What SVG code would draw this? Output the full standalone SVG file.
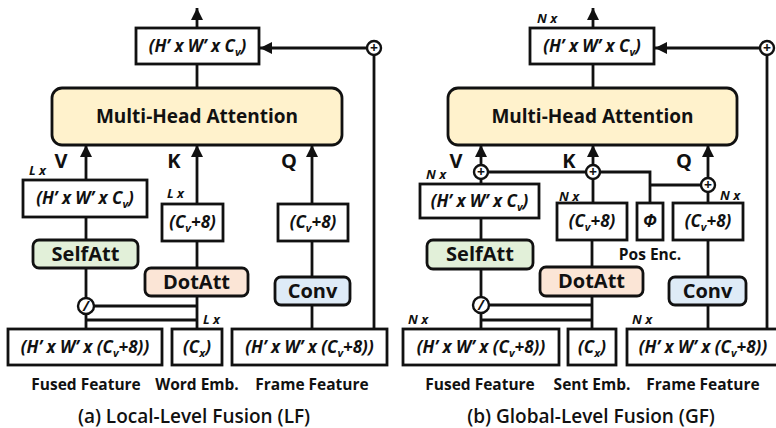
<svg xmlns="http://www.w3.org/2000/svg" width="776" height="428" viewBox="0 0 776 428">
<defs>
<marker id="arr" viewBox="0 0 10 10" refX="10" refY="5" markerWidth="12" markerHeight="12" markerUnits="userSpaceOnUse" orient="auto">
<path d="M0,0 L10,5 L0,10 z" fill="#111"/>
</marker>
</defs>
<style>
.box{fill:#fff;stroke:#111;stroke-width:2.8}
.mha{fill:#FFF2CC;stroke:#111;stroke-width:2.8}
.sa{fill:#E2F0D9;stroke:#111;stroke-width:2.8}
.da{fill:#FBE5D6;stroke:#111;stroke-width:2.8}
.cv{fill:#DEEBF7;stroke:#111;stroke-width:2.8}
.circ{fill:#fff;stroke:#111;stroke-width:2.4}
.ln{fill:none;stroke:#111;stroke-width:2.8}
.ar{fill:none;stroke:#111;stroke-width:2.8;marker-end:url(#arr)}
text{font-family:"Open Sans","DejaVu Sans",sans-serif;fill:#111;text-anchor:middle}
.t{font-size:17px;font-weight:bold;font-style:italic}
.big{font-size:19px;font-weight:bold}
.mod{font-size:20px;font-weight:bold}
.qkv{font-size:20px;font-weight:bold}
.nx{font-size:13px;font-weight:bold;font-style:italic;text-anchor:start}
.lab{font-size:15.5px;font-weight:bold}
.cap{font-size:19px;font-weight:600}
.sym{font-size:14px;font-weight:bold}
.sub{font-size:11px}
</style>

<g id="connectors">
<!-- left panel -->
<line class="ar" x1="197" y1="28" x2="197" y2="8"/>
<line class="ln" x1="197" y1="64" x2="197" y2="88"/>
<line class="ar" x1="367" y1="48" x2="260" y2="48"/>
<line class="ln" x1="374" y1="55" x2="374" y2="329"/>
<line class="ar" x1="86" y1="180" x2="86" y2="145"/>
<line class="ar" x1="197" y1="204" x2="197" y2="145"/>
<line class="ar" x1="312" y1="204" x2="312" y2="145"/>
<line class="ln" x1="86" y1="217" x2="86" y2="240"/>
<line class="ln" x1="86" y1="268" x2="86" y2="298"/>
<line class="ln" x1="86" y1="314" x2="86" y2="329"/>
<line class="ln" x1="94" y1="306" x2="197" y2="306"/>
<line class="ln" x1="86" y1="320" x2="197" y2="320"/>
<line class="ln" x1="197" y1="241" x2="197" y2="268"/>
<line class="ln" x1="197" y1="296" x2="197" y2="329"/>
<line class="ln" x1="312" y1="241" x2="312" y2="277"/>
<line class="ln" x1="312" y1="305" x2="312" y2="329"/>
<!-- right panel -->
<line class="ar" x1="593" y1="28" x2="593" y2="8"/>
<line class="ln" x1="593" y1="64" x2="593" y2="88"/>
<line class="ar" x1="760" y1="48" x2="655" y2="48"/>
<line class="ln" x1="767" y1="55" x2="767" y2="329"/>
<line class="ar" x1="481" y1="165" x2="481" y2="145"/>
<line class="ln" x1="481" y1="179" x2="481" y2="184"/>
<line class="ar" x1="593" y1="165" x2="593" y2="145"/>
<line class="ln" x1="593" y1="179" x2="593" y2="203"/>
<line class="ar" x1="708" y1="178" x2="708" y2="145"/>
<line class="ln" x1="708" y1="192" x2="708" y2="203"/>
<line class="ln" x1="488" y1="172" x2="586" y2="172"/>
<polyline class="ln" points="600,172 650,172 650,203"/>
<line class="ln" x1="650" y1="185" x2="701" y2="185"/>
<line class="ln" x1="481" y1="218" x2="481" y2="240"/>
<line class="ln" x1="481" y1="269" x2="481" y2="297"/>
<line class="ln" x1="481" y1="313" x2="481" y2="329"/>
<line class="ln" x1="489" y1="305" x2="592" y2="305"/>
<line class="ln" x1="481" y1="320" x2="592" y2="320"/>
<line class="ln" x1="592" y1="240" x2="592" y2="267"/>
<line class="ln" x1="592" y1="296" x2="592" y2="329"/>
<line class="ln" x1="708" y1="240" x2="708" y2="277"/>
<line class="ln" x1="708" y1="305" x2="708" y2="329"/>
</g>

<!-- ========== LEFT PANEL ========== -->
<g id="a-out">
<rect class="box" x="136" y="28" width="123" height="36"/>
<text class="t" x="197.5" y="52">(H’ x W’ x C<tspan class="sub" dy="4">v</tspan><tspan dy="-4">)</tspan></text>
</g>
<g id="a-add">
<circle class="circ" cx="374" cy="48" r="7"/>
<text class="sym" x="374" y="53">+</text>
</g>
<g id="a-mha">
<rect class="mha" x="52" y="88" width="290" height="57" rx="10"/>
<text class="big" x="197" y="123">Multi-Head Attention</text>
</g>
<g id="a-labels">
<text class="qkv" x="61" y="168">V</text>
<text class="qkv" x="174" y="168">K</text>
<text class="qkv" x="289" y="168">Q</text>
<text class="nx" x="29" y="175">L x</text>
<text class="nx" x="167" y="198">L x</text>
<text class="nx" x="203" y="324">L x</text>
</g>
<g id="a-v">
<rect class="box" x="23" y="180" width="124" height="37"/>
<text class="t" x="85" y="204">(H’ x W’ x C<tspan class="sub" dy="4">v</tspan><tspan dy="-4">)</tspan></text>
</g>
<g id="a-k">
<rect class="box" x="162" y="204" width="61" height="37"/>
<text class="t" x="192.5" y="228">(C<tspan class="sub" dy="4">v</tspan><tspan dy="-4">+8)</tspan></text>
</g>
<g id="a-q">
<rect class="box" x="278" y="204" width="70" height="37"/>
<text class="t" x="313" y="228">(C<tspan class="sub" dy="4">v</tspan><tspan dy="-4">+8)</tspan></text>
</g>
<g id="a-selfatt">
<rect class="sa" x="33" y="240" width="105" height="28" rx="6"/>
<text class="mod" x="85.5" y="261">SelfAtt</text>
</g>
<g id="a-dotatt">
<rect class="da" x="145" y="268" width="103" height="28" rx="6"/>
<text class="mod" x="196.5" y="289">DotAtt</text>
</g>
<g id="a-conv">
<rect class="cv" x="275" y="277" width="75" height="28" rx="6"/>
<text class="mod" x="312.5" y="298">Conv</text>
</g>
<g id="a-div">
<circle class="circ" cx="86" cy="306" r="8"/>
<text class="sym" x="86" y="311" font-style="italic">/</text>
</g>
<g id="a-fused">
<rect class="box" x="8" y="329" width="154" height="36"/>
<text class="t" x="85" y="353">(H’ x W’ x (C<tspan class="sub" dy="4">v</tspan><tspan dy="-4">+8))</tspan></text>
</g>
<g id="a-word">
<rect class="box" x="172" y="329" width="50" height="36"/>
<text class="t" x="197" y="353">(C<tspan class="sub" dy="4">x</tspan><tspan dy="-4">)</tspan></text>
</g>
<g id="a-frame">
<rect class="box" x="232" y="329" width="155" height="36"/>
<text class="t" x="309.5" y="353">(H’ x W’ x (C<tspan class="sub" dy="4">v</tspan><tspan dy="-4">+8))</tspan></text>
</g>
<g id="a-captions">
<text class="lab" x="86" y="390">Fused Feature</text>
<text class="lab" x="197" y="390">Word Emb.</text>
<text class="lab" x="312" y="390">Frame Feature</text>
<text class="cap" x="194" y="423">(a) Local-Level Fusion (LF)</text>
</g>

<!-- ========== RIGHT PANEL ========== -->
<g id="b-out">
<rect class="box" x="530" y="28" width="124" height="36"/>
<text class="t" x="592" y="52">(H’ x W’ x C<tspan class="sub" dy="4">v</tspan><tspan dy="-4">)</tspan></text>
</g>
<g id="b-add">
<circle class="circ" cx="767" cy="48" r="7"/>
<text class="sym" x="767" y="53">+</text>
</g>
<g id="b-mha">
<rect class="mha" x="448" y="88" width="289" height="57" rx="10"/>
<text class="big" x="592.5" y="123">Multi-Head Attention</text>
</g>
<g id="b-labels">
<text class="qkv" x="456" y="168">V</text>
<text class="qkv" x="569" y="168">K</text>
<text class="qkv" x="684" y="168">Q</text>
<text class="nx" x="537" y="23">N x</text>
<text class="nx" x="426" y="179">N x</text>
<text class="nx" x="559" y="201">N x</text>
<text class="nx" x="720" y="200">N x</text>
<text class="nx" x="408" y="324">N x</text>
<text class="nx" x="632" y="324">N x</text>
</g>
<g id="b-addv">
<circle class="circ" cx="481" cy="172" r="7"/>
<text class="sym" x="481" y="177">+</text>
</g>
<g id="b-addk">
<circle class="circ" cx="593" cy="172" r="7"/>
<text class="sym" x="593" y="177">+</text>
</g>
<g id="b-addq">
<circle class="circ" cx="708" cy="185" r="7"/>
<text class="sym" x="708" y="190">+</text>
</g>
<g id="b-v">
<rect class="box" x="420" y="184" width="119" height="34"/>
<text class="t" x="479.5" y="207">(H’ x W’ x C<tspan class="sub" dy="4">v</tspan><tspan dy="-4">)</tspan></text>
</g>
<g id="b-k">
<rect class="box" x="557" y="203" width="70" height="37"/>
<text class="t" x="592" y="227">(C<tspan class="sub" dy="4">v</tspan><tspan dy="-4">+8)</tspan></text>
</g>
<g id="b-pos">
<rect class="box" x="637" y="203" width="26" height="37"/>
<text class="t" x="650" y="227">Φ</text>
<text class="lab" x="650" y="260">Pos Enc.</text>
</g>
<g id="b-q">
<rect class="box" x="673" y="203" width="70" height="37"/>
<text class="t" x="708" y="227">(C<tspan class="sub" dy="4">v</tspan><tspan dy="-4">+8)</tspan></text>
</g>
<g id="b-selfatt">
<rect class="sa" x="427" y="240" width="106" height="29" rx="6"/>
<text class="mod" x="480" y="261">SelfAtt</text>
</g>
<g id="b-dotatt">
<rect class="da" x="540" y="267" width="103" height="29" rx="6"/>
<text class="mod" x="591.5" y="288">DotAtt</text>
</g>
<g id="b-conv">
<rect class="cv" x="669" y="277" width="77" height="28" rx="6"/>
<text class="mod" x="707.5" y="298">Conv</text>
</g>
<g id="b-div">
<circle class="circ" cx="481" cy="305" r="8"/>
<text class="sym" x="481" y="310" font-style="italic">/</text>
</g>
<g id="b-fused">
<rect class="box" x="403" y="329" width="156" height="36"/>
<text class="t" x="481" y="353">(H’ x W’ x (C<tspan class="sub" dy="4">v</tspan><tspan dy="-4">+8))</tspan></text>
</g>
<g id="b-sent">
<rect class="box" x="568" y="329" width="48" height="36"/>
<text class="t" x="592" y="353">(C<tspan class="sub" dy="4">x</tspan><tspan dy="-4">)</tspan></text>
</g>
<g id="b-frame">
<rect class="box" x="627" y="329" width="160" height="36"/>
<text class="t" x="703" y="353">(H’ x W’ x (C<tspan class="sub" dy="4">v</tspan><tspan dy="-4">+8))</tspan></text>
</g>
<g id="b-captions">
<text class="lab" x="480" y="390">Fused Feature</text>
<text class="lab" x="592" y="390">Sent Emb.</text>
<text class="lab" x="703" y="390">Frame Feature</text>
<text class="cap" x="591" y="423">(b) Global-Level Fusion (GF)</text>
</g>
</svg>
